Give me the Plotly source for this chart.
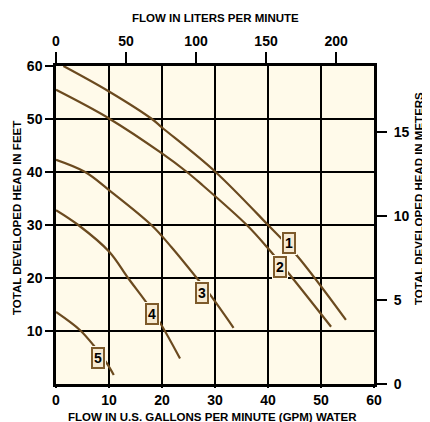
import plotly.graph_objects as go

# ---- data (GPM, feet) ----
c1_x = [1.4, 10, 18.1, 20, 30, 40.2, 45.4, 54.7]
c1_y = [60, 55.2, 50, 48.4, 40.1, 29.8, 24.3, 12.1]
c2_x = [0, 10, 20, 24.7, 27.2, 36, 40, 44, 51.9]
c2_y = [55.5, 50.1, 43.5, 40, 37.9, 30, 25.6, 20.75, 10.8]
c3_x = [0, 5.5, 10, 18, 21.8, 27.2, 29.1, 33.5]
c3_y = [42.3, 40, 36.6, 30, 25.8, 19.2, 16.8, 10.6]
c4_x = [0, 4.2, 10, 13.6, 17.1, 19.6, 23.4]
c4_y = [32.8, 30, 25, 20, 15.3, 11.6, 4.8]
c5_x = [0, 4.5, 7, 9.6, 10.9]
c5_y = [13.6, 10.2, 7.4, 3.9, 1.7]

labels = ["1", "2", "3", "4", "5"]
label_x = [44, 42.3, 27.5, 18.05, 7.9]
label_y = [26.6, 22.1, 17.1, 13.3, 5.0]

gpm_ticks = [0, 10, 20, 30, 40, 50, 60]
ft_ticks = [10, 20, 30, 40, 50, 60]
lpm_ticks = [0, 50, 100, 150, 200]
m_ticks = [0, 5, 10, 15]

curves = [(c1_x, c1_y), (c2_x, c2_y), (c3_x, c3_y), (c4_x, c4_y), (c5_x, c5_y)]

BG = "#fffaea"
BROWN = "#6b4a1f"
FONT = "Liberation Sans"

fig = go.Figure()
for cx, cy in curves:
    fig.add_trace(go.Scatter(x=cx, y=cy, mode="lines",
                             line=dict(color=BROWN, width=2.2, shape="spline", smoothing=1.0),
                             hoverinfo="skip", showlegend=False))

# invisible trace for secondary axes
fig.add_trace(go.Scatter(x=[0], y=[0], xaxis="x2", yaxis="y2", mode="markers",
                         marker=dict(opacity=0), showlegend=False, hoverinfo="skip"))

tickfont = dict(family=FONT, size=14, color="black", weight="bold")

# page has an 8px body margin, so the figure is shifted by 8px
fig.update_layout(
    width=422, height=414,
    margin=dict(l=48, r=56, t=58, b=38, autoexpand=False),
    paper_bgcolor="white", plot_bgcolor=BG,
    xaxis=dict(range=[0, 60], tickvals=gpm_ticks, showgrid=True, gridcolor="black", gridwidth=2,
               showline=True, linecolor="black", linewidth=2.5, mirror=True,
               ticks="outside", ticklen=1, tickwidth=2, tickcolor="black", automargin=False,
               tickfont=tickfont, zeroline=False, fixedrange=True),
    yaxis=dict(range=[0, 60], tickvals=ft_ticks, showgrid=True, gridcolor="black", gridwidth=2,
               showline=True, linecolor="black", linewidth=2.5, mirror=True,
               ticks="outside", ticklen=8, tickwidth=2, tickcolor="black", automargin=False,
               tickfont=tickfont, zeroline=False, fixedrange=True),
    xaxis2=dict(range=[0, 60 * 3.785], tickvals=lpm_ticks, overlaying="x", side="top",
                showgrid=False, showline=False, ticks="outside", ticklen=13, tickwidth=2,
                tickcolor="black", tickfont=tickfont, zeroline=False, fixedrange=True,
                automargin=False),
    yaxis2=dict(range=[0, 18.93], tickvals=m_ticks, overlaying="y", side="right",
                showgrid=False, showline=False, ticks="outside", ticklen=12, tickwidth=2,
                tickcolor="black", tickfont=tickfont, zeroline=False, fixedrange=True,
                automargin=False, ticklabelstandoff=4),
)

titlefont = dict(family=FONT, size=11.5, color="black", weight="bold")
ann = [
    dict(text="<b>FLOW IN LITERS PER MINUTE</b>", x=0.5, y=(384 - 18) / 318, xref="paper", yref="paper",
         showarrow=False, font=titlefont, xanchor="center", yanchor="middle"),
    dict(text="<b>FLOW IN U.S. GALLONS PER MINUTE (GPM) WATER</b>", x=(212 - 56) / 318, y=(384 - 417) / 318,
         xref="paper", yref="paper", showarrow=False, font=titlefont, xanchor="center", yanchor="middle"),
    dict(text="<b>TOTAL DEVELOPED HEAD IN FEET</b>", x=(17 - 56) / 318, y=(384 - 218) / 318,
         xref="paper", yref="paper", showarrow=False, font=titlefont, textangle=-90,
         xanchor="center", yanchor="middle"),
    dict(text="<b>TOTAL DEVELOPED HEAD IN METERS</b>", x=(419 - 56) / 318, y=(384 - 199) / 318,
         xref="paper", yref="paper", showarrow=False, font=titlefont, textangle=-90,
         xanchor="center", yanchor="middle"),
]
labfont = dict(family=FONT, size=14, color="black", weight="bold")
for t, lx, ly in zip(labels, label_x, label_y):
    ann.append(dict(text=t, x=lx, y=ly, xref="x", yref="y", showarrow=False,
                    font=dict(family=FONT, size=14, color=BG, weight="bold"),
                    bgcolor=BG, borderpad=4, borderwidth=0))
    ann.append(dict(text=t, x=lx, y=ly, xref="x", yref="y", showarrow=False, font=labfont,
                    bgcolor="#f6ead3", bordercolor="#7d5a2b", borderwidth=2, borderpad=1))
fig.update_layout(annotations=ann)

fig.write_html("out.html")
